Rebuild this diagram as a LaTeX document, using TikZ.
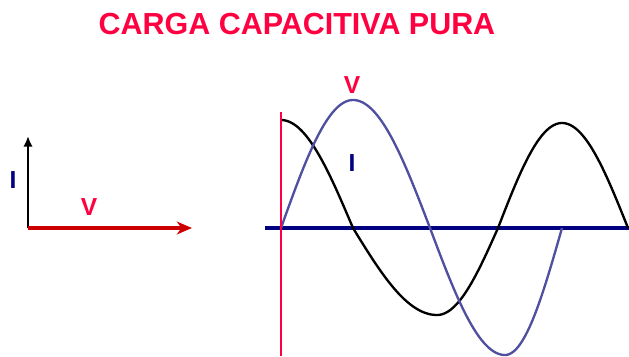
\documentclass[tikz,border=0pt]{standalone}
\usepackage{fontspec}
\setmainfont{Liberation Sans}
\usetikzlibrary{arrows.meta}
\usetikzlibrary{positioning}
\definecolor{tred}{HTML}{FF0040}
\definecolor{dred}{HTML}{CC0000}
\definecolor{vblue}{HTML}{5050A0}
\definecolor{navy}{HTML}{000080}
\tikzset{lbl/.style = {font=\fontsize{21}{24}\selectfont\bfseries, inner sep=0pt},
         wave/.style = {line width=2pt, samples=40, line join=round}}

\begin{document}
\begin{tikzpicture}[x=0.03cm, y=-0.03cm]
    \useasboundingbox (0, 0) rectangle (629, 356);
    \node [tred, inner sep=0pt, font=\fontsize{26}{30}\selectfont\bfseries] (title) at (297, 24) {CARGA CAPACITIVA PURA};

    % phasors
    \begin{scope}
      \coordinate (O) at (28, 228);
      \coordinate (Itip) at (28, 136);
      \coordinate (Vtip) at (192, 228);
      \draw [line width=2.4pt, -{Latex[length=9pt, width=8pt]}] (O) -- (Itip);
      \draw [dred, line width=2.6pt, -{Stealth[length=13pt, width=11pt, inset=4pt]}] (O) -- (Vtip);
      \node [lbl, navy] (Il) at (13, 180) {I};
      \node [lbl, tred] (Vl) at (89, 207) {V};
    \end{scope}

    % waveforms
    \begin{scope}
      \coordinate (axL) at (265, 228);
      \coordinate (axR) at (629, 228);
      \coordinate (rT) at (281, 112);
      \coordinate (rB) at (281, 356);
      \draw [navy, line width=2.6pt] (axL) -- (axR);
      \draw [wave, black] plot [domain=0:90] ({281+72*\x/90}, {228-108*cos(\x)})
                     -- plot [domain=0:90] ({353+84*\x/90}, {228+87*sin(\x)})
                     -- plot [domain=0:90] ({437+61*\x/90}, {228+87*cos(\x)})
                     -- plot [domain=0:90] ({498+64*\x/90}, {228-105*sin(\x)})
                     -- plot [domain=0:90] ({562+66*\x/90}, {228-105*cos(\x)});
      \draw [wave, vblue] plot [domain=0:90] ({281+72*\x/90}, {228-128*sin(\x)})
                     -- plot [domain=0:90] ({353+77*\x/90}, {228-128*cos(\x)})
                     -- plot [domain=0:90] ({430+75*\x/90}, {228+127*sin(\x)})
                     -- plot [domain=0:90] ({505+57*\x/90}, {228+127*cos(\x)});
      \draw [tred, line width=1.8pt] (rT) -- (rB);
      \node [lbl, tred] (Vw) at (352, 85) {V};
      \node [lbl, navy] (Iw) at (352, 163) {I};
    \end{scope}
  \end{tikzpicture}
\end{document}
